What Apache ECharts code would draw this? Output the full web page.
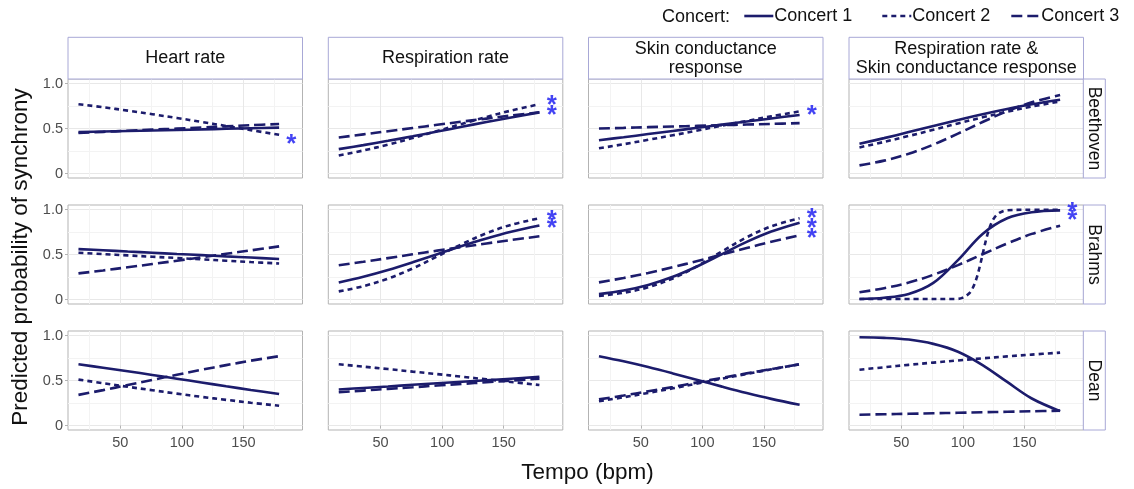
<!DOCTYPE html>
<html>
<head>
<meta charset="utf-8">
<script src="https://cdn.jsdelivr.net/npm/echarts@6/dist/echarts.min.js"></script>
<style>
html,body{margin:0;padding:0;background:#fff;}
#chart{width:1134px;height:489px;}
</style>
</head>
<body>
<div id="chart"></div>
<script>
// ---------- data ----------
const composers = ['Beethoven', 'Brahms', 'Dean'];
const measures = ['Heart rate', 'Respiration rate', 'Skin conductance\nresponse', 'Respiration rate &\nSkin conductance response'];
const concerts = ['Concert 1', 'Concert 2', 'Concert 3'];
const xTicks = [50, 100, 150];
const xMinorTicks = [25, 75, 125, 175];
const yTicks = [0, 0.5, 1];
const yTickLabels = ['0', '0.5', '1.0'];
const yMinorTicks = [0.25, 0.75];

const tempo = [16, 36, 56, 76, 96, 116, 136, 156, 179];
const tempoSharp = [16, 60, 95, 100, 105, 108, 111, 114, 117, 120, 123, 126, 130, 136, 150, 179];

const beethovenHeart = [
  [0.46, 0.466, 0.472, 0.478, 0.484, 0.49, 0.497, 0.503, 0.51],
  [0.77, 0.736, 0.699, 0.659, 0.617, 0.573, 0.528, 0.482, 0.43],
  [0.45, 0.462, 0.475, 0.487, 0.499, 0.512, 0.524, 0.537, 0.55]
];
const beethovenResp = [
  [0.271, 0.315, 0.363, 0.413, 0.466, 0.519, 0.572, 0.623, 0.679],
  [0.20, 0.256, 0.321, 0.394, 0.472, 0.551, 0.628, 0.699, 0.77],
  [0.40, 0.435, 0.47, 0.505, 0.541, 0.576, 0.61, 0.644, 0.68]
];
const beethovenSkin = [
  [0.37, 0.403, 0.438, 0.473, 0.508, 0.543, 0.578, 0.612, 0.65],
  [0.28, 0.325, 0.374, 0.425, 0.478, 0.531, 0.584, 0.635, 0.69],
  [0.50, 0.507, 0.515, 0.522, 0.529, 0.537, 0.544, 0.551, 0.56]
];
const beethovenBoth = [
  [0.33, 0.393, 0.46, 0.528, 0.595, 0.659, 0.717, 0.769, 0.82],
  [0.29, 0.351, 0.417, 0.486, 0.556, 0.624, 0.687, 0.744, 0.80],
  [0.09, 0.143, 0.219, 0.321, 0.443, 0.572, 0.692, 0.791, 0.873]
];
const brahmsHeart = [
  [0.56, 0.547, 0.533, 0.52, 0.506, 0.493, 0.479, 0.466, 0.45],
  [0.52, 0.505, 0.49, 0.475, 0.461, 0.446, 0.431, 0.416, 0.40],
  [0.29, 0.323, 0.358, 0.394, 0.431, 0.469, 0.508, 0.546, 0.59]
];
const brahmsResp = [
  [0.19, 0.253, 0.328, 0.413, 0.503, 0.594, 0.678, 0.752, 0.822],
  [0.09, 0.148, 0.232, 0.345, 0.479, 0.615, 0.736, 0.83, 0.902],
  [0.38, 0.419, 0.46, 0.502, 0.543, 0.583, 0.623, 0.661, 0.702]
];
const brahmsSkin = [
  [0.06, 0.10, 0.162, 0.252, 0.37, 0.505, 0.64, 0.755, 0.854],
  [0.04, 0.075, 0.136, 0.234, 0.372, 0.535, 0.691, 0.813, 0.903],
  [0.19, 0.239, 0.295, 0.359, 0.428, 0.50, 0.572, 0.641, 0.714]
];
const brahmsBoth = [
  [0.005, 0.019, 0.061, 0.184, 0.438, 0.729, 0.903, 0.97, 0.99],
  null,
  [0.08, 0.125, 0.188, 0.275, 0.382, 0.503, 0.622, 0.729, 0.82]
];
const brahmsBothConcert2 = [0.005, 0.005, 0.006, 0.021, 0.067, 0.128, 0.231, 0.382, 0.56, 0.723, 0.843, 0.917, 0.966, 0.992, 0.997, 0.998];
const deanHeart = [
  [0.68, 0.642, 0.603, 0.562, 0.52, 0.478, 0.436, 0.395, 0.35],
  [0.51, 0.47, 0.43, 0.392, 0.354, 0.318, 0.285, 0.253, 0.22],
  [0.34, 0.393, 0.449, 0.506, 0.564, 0.619, 0.671, 0.72, 0.77]
];
const deanResp = [
  [0.40, 0.417, 0.434, 0.452, 0.469, 0.486, 0.503, 0.52, 0.54],
  [0.68, 0.654, 0.627, 0.599, 0.571, 0.542, 0.513, 0.484, 0.45],
  [0.37, 0.388, 0.407, 0.425, 0.444, 0.462, 0.481, 0.499, 0.52]
];
const deanSkin = [
  [0.77, 0.713, 0.649, 0.579, 0.506, 0.432, 0.361, 0.296, 0.23],
  [0.27, 0.314, 0.362, 0.413, 0.466, 0.52, 0.573, 0.624, 0.68],
  [0.29, 0.333, 0.38, 0.428, 0.479, 0.529, 0.579, 0.627, 0.68]
];
const deanBoth = [
  [0.98, 0.974, 0.955, 0.907, 0.82, 0.672, 0.484, 0.30, 0.16],
  [0.62, 0.647, 0.674, 0.699, 0.723, 0.746, 0.768, 0.788, 0.81],
  [0.12, 0.125, 0.13, 0.136, 0.141, 0.147, 0.152, 0.158, 0.165]
];

// significance asterisks (one entry per star, value = y position)
const starTempo = 189;
const starsBeethoven = [[0.39], [0.82, 0.71], [0.71], []];
const starsBrahms = [[], [0.945, 0.85], [0.96, 0.85, 0.74], [1.03, 0.94]];
const starsDean = [[], [], [], []];

// ---------- build chart ----------
const panels = [
  [beethovenHeart, beethovenResp, beethovenSkin, beethovenBoth],
  [brahmsHeart, brahmsResp, brahmsSkin, brahmsBoth],
  [deanHeart, deanResp, deanSkin, deanBoth]
];
const stars = [starsBeethoven, starsBrahms, starsDean];

const FONT = '"Liberation Sans", Arial, Helvetica, sans-serif';
const LINE = '#1c1c6c';
const dashes = ['solid', [5, 4], [11, 5]];
const colLeft = [68, 328.3, 588.5, 849];
const colWidth = 234.5;
const rowTop = [79, 205, 331];
const rowHeight = 99;
const X_MIN = 7.5, X_MAX = 198, Y_MIN = -0.05, Y_MAX = 1.05;

const grids = [], xAxes = [], yAxes = [], series = [], graphics = [];

for (let r = 0; r < 3; r++) {
  for (let c = 0; c < 4; c++) {
    const gi = r * 4 + c;
    grids.push({
      left: colLeft[c], top: rowTop[r], width: colWidth, height: rowHeight,
      show: true, borderColor: '#b3b3b3', borderWidth: 1, backgroundColor: '#fff',
      containLabel: false, outerBoundsMode: 'none'
    });
    xAxes.push({
      type: 'value', gridIndex: gi, min: X_MIN, max: X_MAX, position: 'bottom',
      axisLine: { show: false },
      axisTick: { show: r === 2, customValues: xTicks, length: 3, lineStyle: { color: '#b3b3b3' } },
      axisLabel: { show: r === 2, customValues: xTicks, margin: 5, fontSize: 14.5, color: '#4d4d4d', fontFamily: FONT },
      splitLine: { show: true, lineStyle: { color: '#e8e8e8', width: 1 } }
    });
    xAxes.push({
      type: 'value', gridIndex: gi, min: X_MIN, max: X_MAX, position: 'top',
      axisLine: { show: false },
      axisTick: { show: false, customValues: xMinorTicks },
      axisLabel: { show: false, customValues: xMinorTicks },
      splitLine: { show: true, lineStyle: { color: '#f3f3f3', width: 1 } }
    });
    yAxes.push({
      type: 'value', gridIndex: gi, min: Y_MIN, max: Y_MAX, position: 'left',
      axisLine: { show: false },
      axisTick: { show: c === 0, customValues: yTicks, length: 3, lineStyle: { color: '#b3b3b3' } },
      axisLabel: {
        show: c === 0, customValues: yTicks, margin: 5, fontSize: 14.5, color: '#4d4d4d', fontFamily: FONT,
        formatter: v => yTickLabels[yTicks.indexOf(Math.round(v * 100) / 100)] ?? ''
      },
      splitLine: { show: true, lineStyle: { color: '#e8e8e8', width: 1 } }
    });
    yAxes.push({
      type: 'value', gridIndex: gi, min: Y_MIN, max: Y_MAX, position: 'right',
      axisLine: { show: false },
      axisTick: { show: false, customValues: yMinorTicks },
      axisLabel: { show: false, customValues: yMinorTicks },
      splitLine: { show: true, lineStyle: { color: '#f3f3f3', width: 1 } }
    });

    const panel = panels[r][c];
    for (let k = 0; k < 3; k++) {
      let data;
      if (panel[k]) data = tempo.map((t, i) => [t, panel[k][i]]);
      else data = tempoSharp.map((t, i) => [t, brahmsBothConcert2[i]]);
      series.push({
        type: 'line', name: concerts[k], xAxisIndex: gi * 2, yAxisIndex: gi * 2,
        data: data, smooth: 0.35, symbol: 'none', showSymbol: false, silent: true,
        lineStyle: { color: LINE, width: 2.6, type: dashes[k], cap: 'butt' },
        itemStyle: { color: LINE },
        z: 3 - k
      });
    }
    const st = stars[r][c];
    if (st.length) {
      series.push({
        type: 'scatter', name: 'significance', xAxisIndex: gi * 2, yAxisIndex: gi * 2,
        data: st.map(v => [starTempo, v]), symbol: 'circle', symbolSize: 1,
        itemStyle: { color: 'rgba(0,0,0,0)' }, silent: true,
        label: { show: true, formatter: '*', position: 'inside', color: '#1414f0', fontSize: 26,
                 fontWeight: 'bold', fontFamily: FONT, offset: [0, 6] }
      });
    }
  }
}

// strips (top)
for (let c = 0; c < 4; c++) {
  graphics.push({
    type: 'rect', shape: { x: colLeft[c], y: 37.3, width: colWidth, height: 41.7 },
    style: { fill: '#fff', stroke: '#a8a8d6', lineWidth: 1 }, z: 10
  });
  graphics.push({
    type: 'text', x: colLeft[c] + colWidth / 2, y: 58.5, z: 11,
    style: { text: measures[c], fill: '#111', font: '18px ' + FONT, align: 'center',
             verticalAlign: 'middle', lineHeight: 18.5 }
  });
}
// strips (right)
for (let r = 0; r < 3; r++) {
  graphics.push({
    type: 'rect', shape: { x: 1083.3, y: rowTop[r], width: 22, height: rowHeight },
    style: { fill: '#fff', stroke: '#a8a8d6', lineWidth: 1 }, z: 10
  });
  graphics.push({
    type: 'text', x: 1094.3, y: rowTop[r] + rowHeight / 2, rotation: -Math.PI / 2, z: 11,
    style: { text: composers[r], fill: '#111', font: '17.5px ' + FONT, align: 'center', verticalAlign: 'middle' }
  });
}
// axis titles
graphics.push({
  type: 'text', x: 587.5, y: 473, z: 11,
  style: { text: 'Tempo (bpm)', fill: '#111', font: '22.5px ' + FONT, align: 'center', verticalAlign: 'middle' }
});
graphics.push({
  type: 'text', x: 21, y: 257, rotation: Math.PI / 2, z: 11,
  style: { text: 'Predicted probability of synchrony', fill: '#111', font: '22.5px ' + FONT, align: 'center', verticalAlign: 'middle' }
});
// legend title
graphics.push({
  type: 'text', x: 662, y: 17, z: 11,
  style: { text: 'Concert:', fill: '#111', font: '18px ' + FONT, align: 'left', verticalAlign: 'middle' }
});

const legendLefts = [743, 881, 1010];
const legends = concerts.map((name, k) => ({
  data: [name], left: legendLefts[k], top: 7, orient: 'horizontal',
  itemWidth: 29, itemHeight: 20, itemGap: 0, padding: 0, selectedMode: false,
  itemStyle: { opacity: 0, borderWidth: 0 },
  lineStyle: { width: 2.6 },
  textStyle: { fontSize: 18, color: '#111', fontFamily: FONT, padding: [0, 0, 0, -4] }
}));

const chart = echarts.init(document.getElementById('chart'), null, { renderer: 'canvas' });
chart.setOption({
  animation: false,
  backgroundColor: '#fff',
  grid: grids,
  xAxis: xAxes,
  yAxis: yAxes,
  legend: legends,
  series: series,
  graphic: graphics
});
</script>
</body>
</html>
